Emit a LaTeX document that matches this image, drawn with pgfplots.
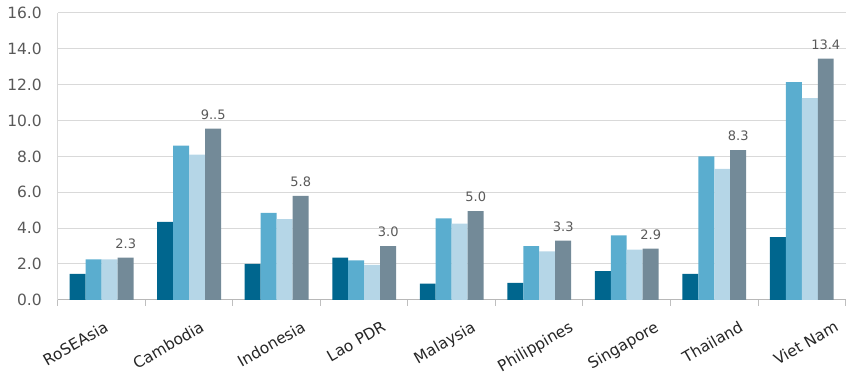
\documentclass[border=0pt]{standalone}
\usepackage{pgfplots}
\pgfplotsset{compat=1.18}
\usepackage{fontspec}
\setmainfont{DejaVu Sans}
\definecolor{cDark}{HTML}{00668E}
\definecolor{cMed}{HTML}{5AADCF}
\definecolor{cLight}{HTML}{B5D6E7}
\definecolor{cGray}{HTML}{738A98}
\definecolor{cTxt}{HTML}{595959}
\begin{document}
\begin{tikzpicture}
\begin{axis}[
    scale only axis,
    width=788pt, height=287pt,
    xmin=-0.5, xmax=8.5,
    ymin=0, ymax=16,
    ytick={0,2,...,16},
    ybar=0pt, bar width=16pt,
    axis x line*=bottom, axis y line*=left,
    x axis line style={draw=black!28, line width=1pt},
    y axis line style={draw=black!15, line width=1pt},
    ymajorgrids=true,
    major grid style={draw=black!15, line width=1pt},
    tick align=outside,
    major tick length=0pt,
    minor tick length=6pt,
    minor xtick={-0.5,0.5,...,8.5},
    minor x tick style={draw=black!25, line width=1pt},
    xtick={0.02,1.114,2.274,3.194,4.217,5.331,6.308,7.274,8.365},
    xticklabels={RoSEAsia,Cambodia,Indonesia,Lao PDR,Malaysia,Philippines,Singapore,Thailand,Viet Nam},
    x tick label style={font=\fontsize{15.5}{18}\selectfont, text=black!85,
        anchor=north east, inner sep=0pt, yshift=-20pt, rotate=30},
    y tick label style={font=\fontsize{15.5}{18}\selectfont, text=cTxt,
        inner sep=0pt, xshift=-16pt,
        /pgf/number format/fixed, /pgf/number format/fixed zerofill,
        /pgf/number format/precision=1, /pgf/number format/assume math mode=true},
]
\addplot[fill=cDark, draw=none] coordinates {
    (0,1.45) (1,4.35) (2,2.0) (3,2.35) (4,0.9) (5,0.95) (6,1.6) (7,1.45) (8,3.5)};
\addplot[fill=cMed, draw=none] coordinates {
    (0,2.25) (1,8.6) (2,4.85) (3,2.2) (4,4.55) (5,3.0) (6,3.6) (7,8.0) (8,12.15)};
\addplot[fill=cLight, draw=none] coordinates {
    (0,2.25) (1,8.1) (2,4.5) (3,1.95) (4,4.25) (5,2.7) (6,2.8) (7,7.3) (8,11.25)};
\addplot[fill=cGray, draw=none,
    nodes near coords, point meta=explicit symbolic,
    every node near coord/.append style={font=\fontsize{13}{15}\selectfont,
        text=cTxt, inner sep=0pt, yshift=9pt}] coordinates {
    (0,2.35)[2.3] (1,9.55)[9..5] (2,5.8)[5.8] (3,3.0)[3.0] (4,4.95)[5.0]
    (5,3.3)[3.3] (6,2.85)[2.9] (7,8.35)[8.3] (8,13.45)[13.4]};
\end{axis}
\path (current axis.south west) ++(-58pt,-70pt) rectangle ++(846pt,370pt);
\end{tikzpicture}
\end{document}
